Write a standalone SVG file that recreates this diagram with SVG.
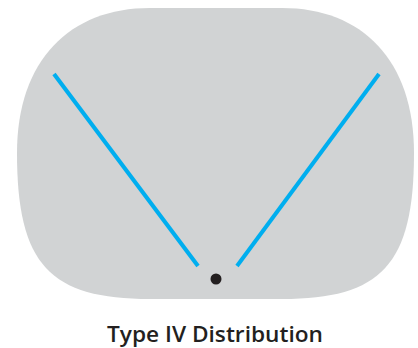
<svg xmlns="http://www.w3.org/2000/svg" width="418" height="348" viewBox="0 0 418 348">
<style>
.bg{fill:#d1d3d4}
.ray{stroke:#00aeef;stroke-width:4;fill:none}
.lbl{font-family:"Open Sans","Liberation Sans",sans-serif;font-weight:600;font-size:22px;fill:#231f20}
</style>
<rect width="418" height="348" fill="#ffffff"/>
<g id="plate">
<path class="bg" d="M150 8 H282 C362 8 414 60 414 153 C414 265 381 299 282 299 H150 C50 299 17 265 17 153 C17 60 70 8 150 8 Z"/>
</g>
<g id="connectors">
<line class="ray" x1="54" y1="74" x2="198" y2="266"/>
<line class="ray" x1="379" y1="74" x2="237" y2="266"/>
</g>
<g id="source">
<circle cx="216" cy="279" r="5.5" fill="#231f20"/>
</g>
<g id="label">
<text class="lbl" x="215" y="341.5" text-anchor="middle" textLength="216" lengthAdjust="spacingAndGlyphs">Type IV Distribution</text>
</g>
</svg>
